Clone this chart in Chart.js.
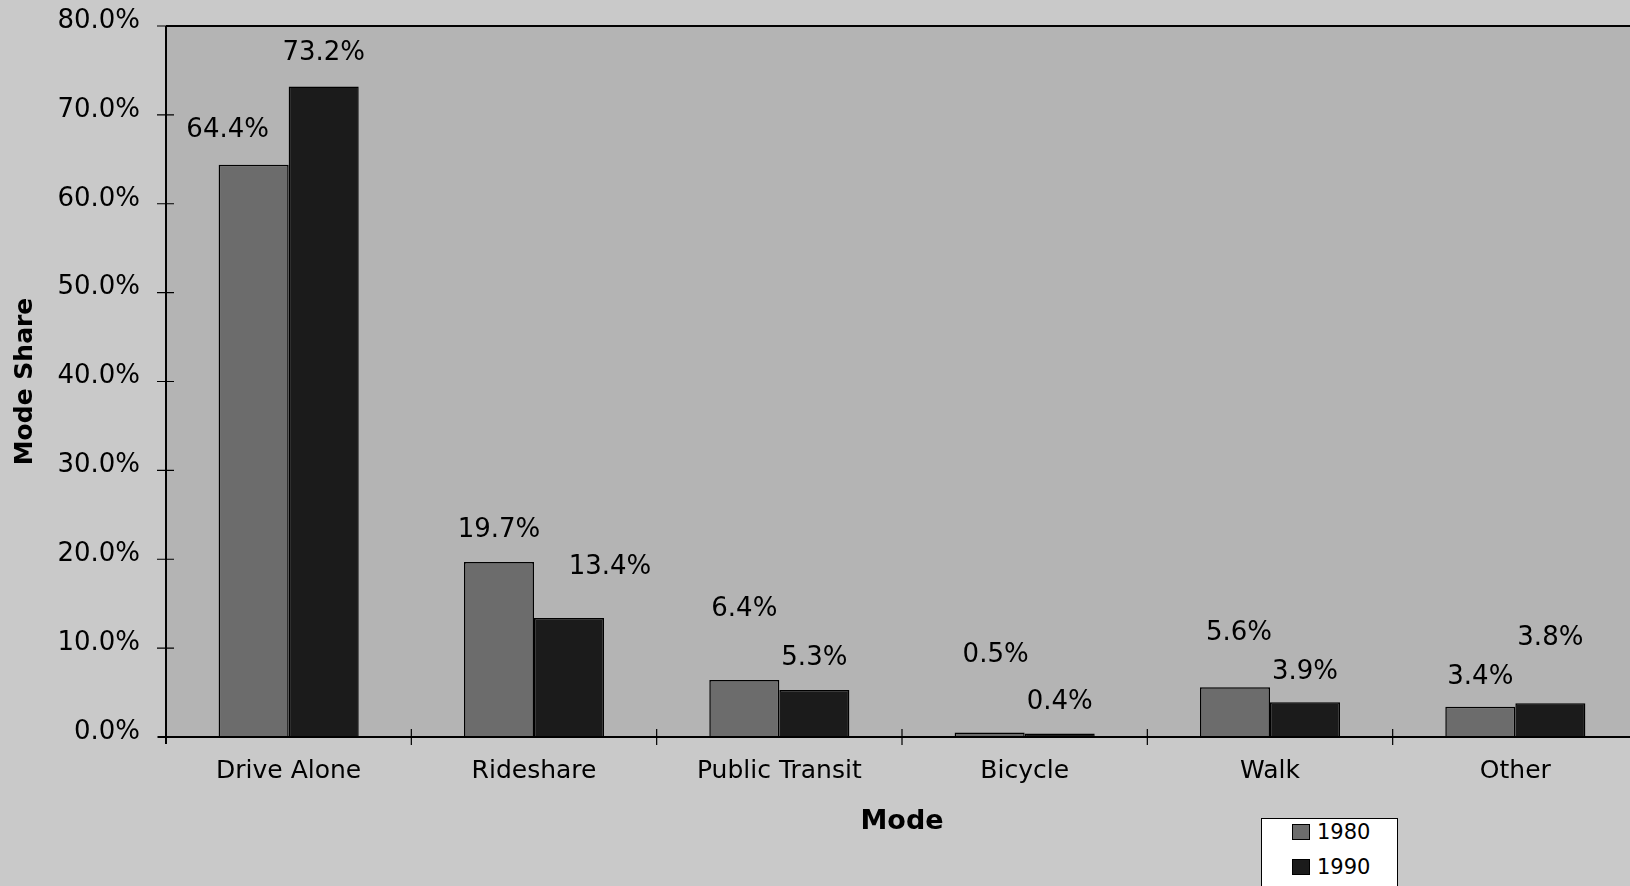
<!DOCTYPE html>
<html>
<head>
<meta charset="utf-8">
<script src="https://cdn.jsdelivr.net/npm/chart.js@4/dist/chart.umd.min.js"></script>
<style>
  html, body { margin: 0; padding: 0; overflow: hidden; background: #c9c9c9; }
  #wrap { position: relative; width: 1640px; height: 886px; }
  #legend { position: absolute; left: 1261px; top: 818px; width: 137px; height: 80px;
            background: #ffffff; border: 1.5px solid #000; box-sizing: border-box;
            font-family: "DejaVu Sans", sans-serif; font-size: 21px; color: #000; }
  .item { position: absolute; left: 30px; height: 26px; display: flex; align-items: center; }
  .sw { width: 18px; height: 16px; border: 1px solid #000; box-sizing: border-box; margin-right: 7px; }
</style>
</head>
<body>
<div id="wrap">
  <canvas id="c" width="1640" height="886"></canvas>
  <div id="legend"></div>
</div>
<script>
// ---- data ----
const categories = ["Drive Alone", "Rideshare", "Public Transit", "Bicycle", "Walk", "Other"];
const seriesNames = ["1980", "1990"];
const values1980 = [64.4, 19.7, 6.4, 0.5, 5.6, 3.4];
const values1990 = [73.2, 13.4, 5.3, 0.4, 3.9, 3.8];
const yTicks = [0, 10, 20, 30, 40, 50, 60, 70, 80];

// ---- style ----
const colors = ["#6c6c6c", "#1b1b1b"];
// label nudges (px) relative to default spot above each bar, as in the source
const nudge1980 = [[-26, -34], [0, -32], [0, -71], [6, -77], [4, -54], [0, -30]];
const nudge1990 = [[0, -33], [41, -51], [0, -32], [0, -31], [0, -30], [0, -65]];
const FONT = '"DejaVu Sans", sans-serif';

const bgPlugin = {
  id: 'bg',
  beforeDraw(chart) {
    const {ctx, chartArea: a} = chart;
    ctx.save();
    ctx.fillStyle = '#c9c9c9';
    ctx.fillRect(0, 0, chart.width, chart.height);
    ctx.fillStyle = '#b4b4b4';
    ctx.fillRect(a.left, a.top, a.right - a.left, a.bottom - a.top);
    ctx.restore();
  },
  afterDatasetsDraw(chart) {
    const {ctx, chartArea: a, scales} = chart;
    ctx.save();
    ctx.strokeStyle = '#000';
    ctx.lineWidth = 2;
    ctx.beginPath();
    ctx.moveTo(a.left, a.top); ctx.lineTo(a.right, a.top);
    ctx.moveTo(a.left, a.top); ctx.lineTo(a.left, a.bottom + 7);
    ctx.moveTo(a.left - 8, a.bottom); ctx.lineTo(a.right, a.bottom);
    ctx.stroke();
    ctx.lineWidth = 1.2;
    ctx.beginPath();
    yTicks.forEach(v => {
      const y = scales.y.getPixelForValue(v);
      ctx.moveTo(a.left - 9, y); ctx.lineTo(a.left + 8, y);
    });
    for (let i = 1; i < categories.length; i++) {
      const x = (scales.x.getPixelForValue(i - 1) + scales.x.getPixelForValue(i)) / 2;
      ctx.moveTo(x, a.bottom - 8); ctx.lineTo(x, a.bottom + 8);
    }
    ctx.stroke();
    // data labels
    ctx.fillStyle = '#000';
    ctx.font = '26px ' + FONT;
    ctx.textAlign = 'center';
    ctx.textBaseline = 'middle';
    const nudges = [nudge1980, nudge1990];
    chart.data.datasets.forEach((ds, di) => {
      const meta = chart.getDatasetMeta(di);
      meta.data.forEach((bar, i) => {
        const n = nudges[di][i];
        ctx.fillText(ds.data[i].toFixed(1) + '%', bar.x + n[0], bar.y + n[1]);
      });
    });
    ctx.restore();
  }
};

const chart = new Chart(document.getElementById('c'), {
  type: 'bar',
  data: {
    labels: categories,
    datasets: [
      { label: seriesNames[0], data: values1980, backgroundColor: colors[0], borderColor: '#000', borderWidth: 1.5 },
      { label: seriesNames[1], data: values1990, backgroundColor: colors[1], borderColor: '#000', borderWidth: 1.5 }
    ]
  },
  options: {
    responsive: false,
    animation: false,
    devicePixelRatio: 1,
    layout: { padding: { left: 0, top: 26, right: 2, bottom: 0 } },
    datasets: { bar: { categoryPercentage: 0.571, barPercentage: 1.0 } },
    plugins: { legend: { display: false }, tooltip: { enabled: false } },
    scales: {
      x: {
        grid: { display: false, drawTicks: false },
        border: { display: false },
        ticks: { color: '#000', font: { family: FONT, size: 25 }, padding: 19, maxRotation: 0 },
        title: { display: true, text: 'Mode', color: '#000', font: { family: FONT, size: 27, weight: 'bold' }, padding: { top: 0, bottom: 48 } },
        afterFit(s) { s.height = 149; s.paddingLeft = 0; s.paddingRight = 0; }
      },
      y: {
        min: 0, max: 80,
        grid: { display: false, drawTicks: false },
        border: { display: false },
        afterBuildTicks(s) { s.ticks = yTicks.map(v => ({ value: v })); },
        ticks: { color: '#000', font: { family: FONT, size: 26 }, padding: 26, labelOffset: -5,
                 callback: v => Number(v).toFixed(1) + '%' },
        title: { display: true, text: 'Mode Share', color: '#000', font: { family: FONT, size: 25, weight: 'bold' }, padding: { top: 10, bottom: 0 } },
        afterFit(s) { s.width = 166; s.paddingTop = 0; s.paddingBottom = 0; }
      }
    }
  },
  plugins: [bgPlugin]
});

// HTML legend built from the datasets
const leg = document.getElementById('legend');
chart.data.datasets.forEach((ds, i) => {
  const it = document.createElement('div');
  it.className = 'item';
  it.style.top = (0 + i * 35) + 'px';
  it.innerHTML = '<span class="sw" style="background:' + ds.backgroundColor + '"></span><span>' + ds.label + '</span>';
  leg.appendChild(it);
});
</script>
</body>
</html>
